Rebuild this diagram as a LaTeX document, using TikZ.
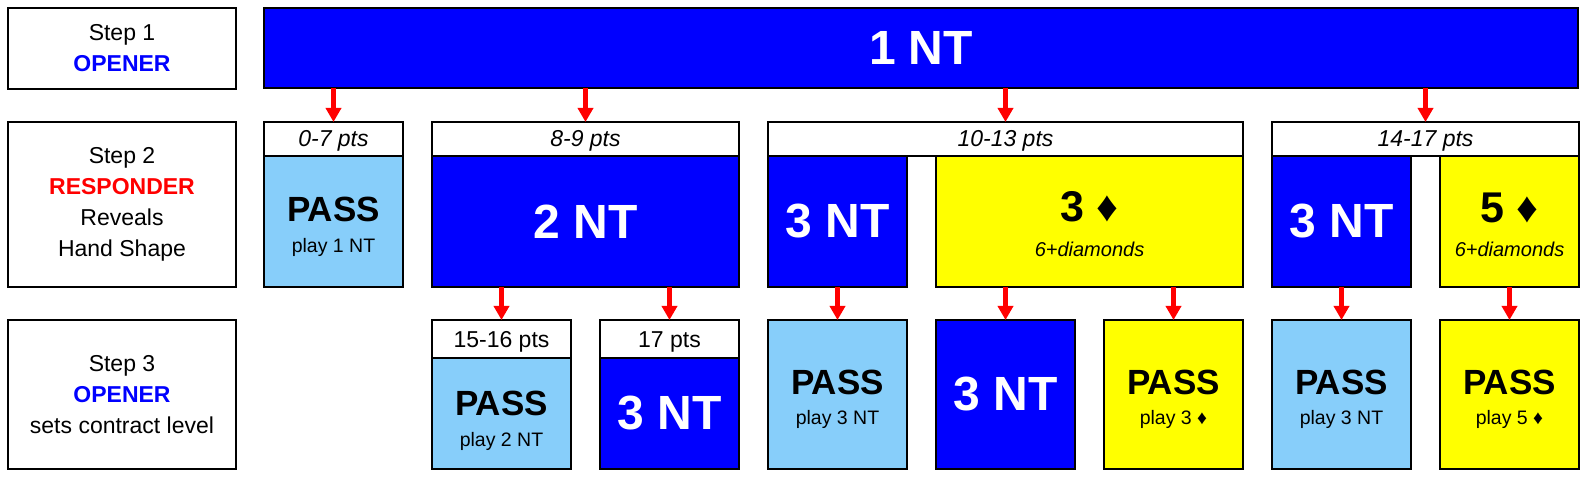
\documentclass[tikz,border=0pt]{standalone}
\usepackage{fontspec}
\setmainfont{Liberation Sans}
\usetikzlibrary{arrows.meta}
\definecolor{bblue}{RGB}{0,0,255}
\definecolor{lblue}{RGB}{135,206,250}
\definecolor{yel}{RGB}{255,255,0}
\definecolor{rred}{RGB}{255,0,0}
\newcommand{\fsz}[1]{\fontsize{#1}{#1}\selectfont}
\newcommand{\bx}[6]{\node[box,#6,minimum width=#4pt,minimum height=#5pt] (#1) at (#2,#3) {};}
\begin{document}
\begin{tikzpicture}[x=1pt,y=-1pt,
  box/.style={draw=black, line width=1.2pt, anchor=north west, inner sep=0pt, outer sep=0pt},
  plain/.style={fill=white},
  hdr/.style={fill=white},
  lb/.style={fill=lblue},
  yl/.style={fill=yel},
  bl/.style={fill=bblue, line width=2.4pt},
  blthin/.style={fill=bblue, line width=1.5pt},
  arr/.style={draw=rred, line width=4.5pt, -{Triangle[length=14pt,width=15pt]}},
  lbl/.style={align=center, font=\fontsize{23}{31}\selectfont, inner sep=0pt},
  hit/.style={anchor=base, font=\fsz{23}\itshape, inner sep=0pt},
  hup/.style={anchor=base, font=\fsz{23}, inner sep=0pt},
  big/.style={text=white, font=\fsz{48}\bfseries, inner sep=0pt},
  pass/.style={anchor=base, font=\fsz{35}\bfseries, inner sep=0pt},
  play/.style={anchor=base, font=\fsz{19.5}, inner sep=0pt},
  suit/.style={anchor=base, font=\fsz{43}\bfseries, inner sep=0pt},
  six/.style={anchor=base, font=\fsz{20}\itshape, inner sep=0pt}
]
\useasboundingbox (0,0) rectangle (1590,478);
% left labels
\bx{s1}{8}{8}{228}{81}{plain}
\bx{s2}{8}{122}{228}{165}{plain}
\bx{s3}{8}{320}{228}{149}{plain}
\node[lbl] (s1t) at (s1.center) {Step 1\\\textcolor{bblue}{\bfseries OPENER}};
\node[lbl] (s2t) at (s2.center) {Step 2\\\textcolor{rred}{\bfseries RESPONDER}\\Reveals\\Hand Shape};
\node[lbl] (s3t) at (s3.center) {Step 3\\\textcolor{bblue}{\bfseries OPENER}\\sets contract level};
% row 1
\bx{one}{264}{8}{1314}{80}{bl}
\node[big] (onet) at (one.center) {1 NT};
% row 2 headers
\bx{h07}{264}{122}{139}{34}{hdr}
\bx{h89}{432}{122}{307}{34}{hdr}
\bx{h1013}{768}{122}{475}{34}{hdr}
\bx{h1417}{1272}{122}{307}{34}{hdr}
\node[hit] (h07t) at ([yshift=-8pt]h07.center) {0-7 pts};
\node[hit] (h89t) at ([yshift=-8pt]h89.center) {8-9 pts};
\node[hit] (h1013t) at ([yshift=-8pt]h1013.center) {10-13 pts};
\node[hit] (h1417t) at ([yshift=-8pt]h1417.center) {14-17 pts};
% row 2 bodies
\bx{b07}{264}{156}{139}{131}{lb}
\bx{nt2}{432}{156}{307}{131}{bl}
\bx{nt3a}{768}{156}{139}{131}{bl}
\bx{d3}{936}{156}{307}{131}{yl}
\bx{nt3b}{1272}{156}{139}{131}{bl}
\bx{d5}{1440}{156}{139}{131}{yl}
\node[pass] (b07a) at ([yshift=-0.5pt]b07.center) {PASS};
\node[play] (b07b) at ([yshift=-31.5pt]b07.center) {play 1 NT};
\node[big] (nt2t) at (nt2.center) {2 NT};
\node[big] (nt3at) at (nt3a.center) {3 NT};
\node[suit] (d3a) at ([yshift=-0.5pt]d3.center) {3 ♦};
\node[six] (d3b) at ([yshift=-35.5pt]d3.center) {6+diamonds};
\node[big] (nt3bt) at (nt3b.center) {3 NT};
\node[suit] (d5a) at ([yshift=-1.5pt]d5.center) {5 ♦};
\node[six] (d5b) at ([yshift=-35.5pt]d5.center) {6+diamonds};
% row 3
\bx{h1516}{432}{320}{139}{38}{hdr}
\bx{h17}{600}{320}{139}{38}{hdr}
\node[hup] (h1516t) at ([yshift=-8.5pt]h1516.center) {15-16 pts};
\node[hup] (h17t) at ([yshift=-8.5pt]h17.center) {17 pts};
\bx{p2}{432}{358}{139}{111}{lb}
\bx{nt3c}{600}{358}{139}{111}{bl}
\bx{p3a}{768}{320}{139}{149}{lb}
\bx{nt3d}{936}{320}{139}{149}{blthin}
\bx{p3d}{1104}{320}{139}{149}{yl}
\bx{p3b}{1272}{320}{139}{149}{lb}
\bx{p5d}{1440}{320}{139}{149}{yl}
\node[pass] (p2a) at ([yshift=-1.5pt]p2.center) {PASS};
\node[play] (p2b) at ([yshift=-32.5pt]p2.center) {play 2 NT};
\node[big] (nt3ct) at (nt3c.center) {3 NT};
\node[pass] (p3aa) at ([yshift=0pt]p3a.center) {PASS};
\node[play] (p3ab) at ([yshift=-30pt]p3a.center) {play 3 NT};
\node[big] (nt3dt) at (nt3d.center) {3 NT};
\node[pass] (p3da) at ([yshift=0pt]p3d.center) {PASS};
\node[play] (p3db) at ([yshift=-30pt]p3d.center) {play 3 ♦};
\node[pass] (p3ba) at ([yshift=0pt]p3b.center) {PASS};
\node[play] (p3bb) at ([yshift=-30pt]p3b.center) {play 3 NT};
\node[pass] (p5da) at ([yshift=0pt]p5d.center) {PASS};
\node[play] (p5db) at ([yshift=-30pt]p5d.center) {play 5 ♦};
% arrows
\draw[arr] (one.south -| h07.north) -- (h07.north);
\draw[arr] (one.south -| h89.north) -- (h89.north);
\draw[arr] (one.south -| h1013.north) -- (h1013.north);
\draw[arr] (one.south -| h1417.north) -- (h1417.north);
\draw[arr] (nt2.south -| h1516.north) -- (h1516.north);
\draw[arr] (nt2.south -| h17.north) -- (h17.north);
\draw[arr] (nt3a.south) -- (p3a.north);
\draw[arr] (d3.south -| nt3d.north) -- (nt3d.north);
\draw[arr] (d3.south -| p3d.north) -- (p3d.north);
\draw[arr] (nt3b.south) -- (p3b.north);
\draw[arr] (d5.south) -- (p5d.north);
\end{tikzpicture}
\end{document}
